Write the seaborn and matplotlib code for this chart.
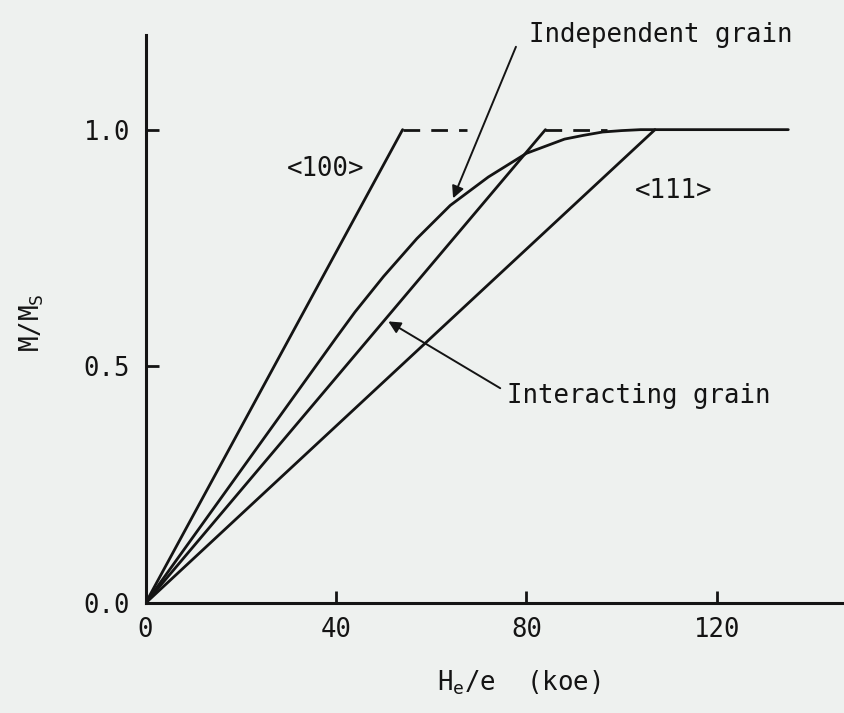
import matplotlib
matplotlib.use("Agg")
import matplotlib.pyplot as plt
import seaborn as sns

# datos (H_e/e en koe, M/Ms)
x_100 = [0, 54]
y_100 = [0, 1.0]
x_100_dash = [54, 67.5]
y_100_dash = [1.0, 1.0]

x_interact = [0, 84]
y_interact = [0, 1.0]
x_interact_dash = [84, 97]
y_interact_dash = [1.0, 1.0]

x_indep = [0, 20, 40, 44, 50, 57, 61, 64, 68, 72, 76, 80, 84, 88, 92, 96, 100, 104, 135]
y_indep = [0, 0.28, 0.56, 0.615, 0.69, 0.77, 0.81, 0.84, 0.87, 0.90, 0.925,
           0.95, 0.965, 0.98, 0.988, 0.995, 0.998, 1.0, 1.0]

x_111 = [0, 107]
y_111 = [0, 1.0]

x_ticks = [0, 40, 80, 120]
y_ticks = [0.0, 0.5, 1.0]
y_ticklabels = ["0.0", "0.5", "1.0"]

BG = "#eef1ef"
INK = "#141414"
MONO = "DejaVu Sans Mono"

sns.set_style("ticks")
plt.rcParams["font.family"] = [MONO]
plt.rcParams["mathtext.fontset"] = "custom"
plt.rcParams["mathtext.rm"] = MONO
plt.rcParams["mathtext.default"] = "regular"

fig = plt.figure(figsize=(8.44, 7.13), dpi=100, facecolor=BG)
ax = fig.add_axes([0.1724, 0.154, 0.8276, 0.797])
ax.set_facecolor(BG)

lw = 2.0
sns.lineplot(x=x_100, y=y_100, ax=ax, color=INK, lw=lw)
sns.lineplot(x=x_100_dash, y=y_100_dash, ax=ax, color=INK, lw=lw, linestyle=(0, (6, 4)))
sns.lineplot(x=x_interact, y=y_interact, ax=ax, color=INK, lw=lw)
sns.lineplot(x=x_interact_dash, y=y_interact_dash, ax=ax, color=INK, lw=lw, linestyle=(0, (6, 4)))
sns.lineplot(x=x_indep, y=y_indep, ax=ax, color=INK, lw=lw)
sns.lineplot(x=x_111, y=y_111, ax=ax, color=INK, lw=lw)

ax.set_xlim(0, 146.7)
ax.set_ylim(0, 1.2)
sns.despine(ax=ax)
for s in ["left", "bottom"]:
    ax.spines[s].set_linewidth(2.2)
    ax.spines[s].set_color(INK)

ax.set_xticks(x_ticks)
ax.set_xticklabels([str(v) for v in x_ticks])
ax.set_yticks(y_ticks)
ax.set_yticklabels(y_ticklabels)
ax.tick_params(axis="both", direction="in", length=9, width=2, color=INK,
               labelsize=18.5, labelcolor=INK)
ax.tick_params(axis="x", pad=10)
ax.tick_params(axis="y", pad=11)
ax.set_xlabel("")
ax.set_ylabel("")

# etiquetas
ax.text(37.9, 0.916, "<100>", fontsize=18.5, color=INK, ha="center", va="center")
ax.text(111, 0.87, "<111>", fontsize=18.5, color=INK, ha="center", va="center")
ax.text(80.6, 1.20, "Independent grain", fontsize=18.5, color=INK, ha="left", va="center")
ax.text(76, 0.437, "Interacting grain", fontsize=18.5, color=INK, ha="left", va="center")

arrow = dict(arrowstyle="-|>", lw=1.4, color=INK, mutation_scale=18, shrinkA=0, shrinkB=0)
ax.annotate("", xy=(64.6, 0.855), xytext=(77.8, 1.175), arrowprops=arrow)
ax.annotate("", xy=(51, 0.595), xytext=(74.5, 0.454), arrowprops=arrow)

fig.text(0.038, 0.548, "M/M$_S$", rotation=90, fontsize=18.5, color=INK,
         ha="center", va="center")
fig.text(0.615, 0.042, "H$_e$/e  (koe)", fontsize=18.5, color=INK,
         ha="center", va="center")

fig.savefig("out.png", dpi=100, facecolor=BG)
